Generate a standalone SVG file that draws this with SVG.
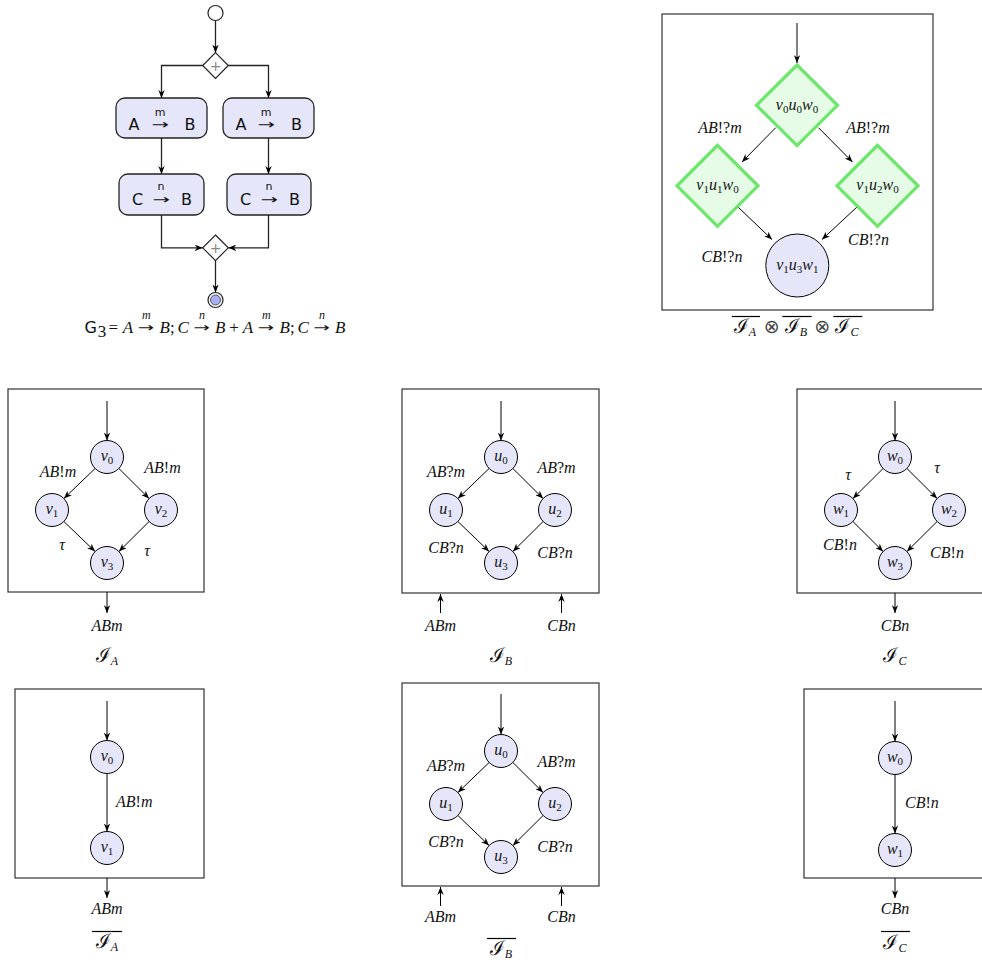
<svg xmlns="http://www.w3.org/2000/svg" width="982" height="964" viewBox="0 0 982 964">
<defs>
<marker id="ah" viewBox="0 0 10 8" refX="10" refY="4" markerWidth="8" markerHeight="6.4" orient="auto" markerUnits="userSpaceOnUse"><path d="M0,0 L10,4 L0,8 L3,4 Z" fill="#000"/></marker>
</defs>
<style>
.e{stroke:#000;stroke-width:1;fill:none;marker-end:url(#ah)}
.ea{stroke:#222;stroke-width:1.3;fill:none;marker-end:url(#ah)}
.st{fill:#e6e6fa;stroke:#000;stroke-width:1}
.box{fill:#fff;stroke:#333;stroke-width:1.2}
.act{fill:#e6e6fa;stroke:#222;stroke-width:1.3}
.gd{fill:#e6fce6;stroke:#6be86b;stroke-width:3.2}
.lb{font-family:"Liberation Serif",serif;font-style:italic;font-size:16px;fill:#111;text-anchor:middle}
.nl{font-family:"Liberation Serif",serif;font-style:italic;font-size:16px;fill:#111;text-anchor:middle}
.sub{font-size:11px;font-style:normal}
.up{font-style:normal}
.sf{font-family:"DejaVu Sans",sans-serif;font-size:16px;fill:#111;text-anchor:middle}
.sfs{font-family:"DejaVu Sans",sans-serif;font-size:11px;fill:#111;text-anchor:middle}
.arw{font-family:"DejaVu Sans",sans-serif;font-size:13px;fill:#111;text-anchor:middle}
.fm{font-family:"Liberation Serif",serif;font-style:italic;font-size:17px;fill:#111}
.fu{font-family:"Liberation Serif",serif;font-size:17px;fill:#111}
.fs{font-family:"Liberation Serif",serif;font-style:italic;font-size:12px;fill:#111;text-anchor:middle}
.scr{font-family:"DejaVu Serif",serif;font-size:20px;font-weight:normal}
.cap{font-family:"Liberation Serif","DejaVu Serif",serif;font-size:17px;fill:#111;text-anchor:middle}
.cs{font-style:italic;font-size:12px}
.ov{stroke:#000;stroke-width:1.2}
</style>

<!-- ============ Activity diagram (top-left) ============ -->
<g id="connectors-activity">
<line class="ea" x1="215.5" y1="20.5" x2="215.5" y2="52.7"/>
<path class="ea" d="M202.7,65.5 H161.5 V98"/>
<path class="ea" d="M228.3,65.5 H268.5 V98"/>
<line class="ea" x1="161.5" y1="138" x2="161.5" y2="174"/>
<line class="ea" x1="268.5" y1="138" x2="268.5" y2="174"/>
<path class="ea" d="M161.5,215 V247.8 H202.7"/>
<path class="ea" d="M268.5,215 V247.8 H228.3"/>
<line class="ea" x1="215.5" y1="260.6" x2="215.5" y2="292.5"/>
</g>
<g id="act-init"><circle cx="215.5" cy="13" r="7.5" fill="#fff" stroke="#222" stroke-width="1.2"/></g>
<g id="act-fork">
<polygon points="215.5,52.7 228.3,65.5 215.5,78.3 202.7,65.5" fill="#fff" stroke="#222" stroke-width="1.2"/>
<text x="215.5" y="70.5" font-family="DejaVu Sans,sans-serif" font-size="14" fill="#888" text-anchor="middle">+</text>
</g>
<g id="act-a1">
<rect class="act" x="116" y="98" width="91" height="40" rx="9"/>
<text class="sf" x="134" y="130">A</text><text class="arw" x="160" y="129.5" transform="matrix(1.6,0,0,1,-96,0)">→</text><text class="sfs" x="160" y="115.5">m</text><text class="sf" x="190" y="130">B</text>
</g>
<g id="act-a2">
<rect class="act" x="223" y="98" width="91" height="40" rx="9"/>
<text class="sf" x="241" y="130">A</text><text class="arw" x="266" y="129.5" transform="matrix(1.6,0,0,1,-159.6,0)">→</text><text class="sfs" x="266" y="115.5">m</text><text class="sf" x="296.5" y="130">B</text>
</g>
<g id="act-c1">
<rect class="act" x="119" y="174" width="85" height="41" rx="9"/>
<text class="sf" x="137.5" y="205">C</text><text class="arw" x="161" y="204" transform="matrix(1.6,0,0,1,-96.6,0)">→</text><text class="sfs" x="161" y="190">n</text><text class="sf" x="186.5" y="205">B</text>
</g>
<g id="act-c2">
<rect class="act" x="227" y="174" width="84" height="41" rx="9"/>
<text class="sf" x="245.5" y="205">C</text><text class="arw" x="269" y="204" transform="matrix(1.6,0,0,1,-161.4,0)">→</text><text class="sfs" x="269" y="190">n</text><text class="sf" x="294.5" y="205">B</text>
</g>
<g id="act-join">
<polygon points="215.5,235 228.3,247.8 215.5,260.6 202.7,247.8" fill="#fff" stroke="#222" stroke-width="1.2"/>
<text x="215.5" y="252.8" font-family="DejaVu Sans,sans-serif" font-size="14" fill="#888" text-anchor="middle">+</text>
</g>
<g id="act-final">
<circle cx="215.5" cy="300" r="7.5" fill="#fff" stroke="#222" stroke-width="1.2"/>
<circle cx="215.5" cy="300" r="5" fill="#aab0f8" stroke="#333" stroke-width="0.8"/>
</g>
<g id="formula">
<text x="84.5" y="333" font-family="DejaVu Sans,sans-serif" font-size="16" fill="#111">G</text>
<text class="fu" x="97.7" y="337" font-size="12">3</text>
<text class="fu" x="108.4" y="333">=</text>
<text class="fm" x="122.7" y="333">A</text>
<text class="arw" x="146.3" y="332" transform="matrix(1.5,0,0,1,-73.15,0)">→</text><text class="fs" x="146.3" y="319">m</text>
<text class="fm" x="159.5" y="333">B</text><text class="fu" x="169.9" y="333">;</text><text class="fm" x="177.4" y="333">C</text>
<text class="arw" x="201.9" y="332" transform="matrix(1.5,0,0,1,-100.95,0)">→</text><text class="fs" x="201.9" y="319">n</text>
<text class="fm" x="215.1" y="333">B</text>
<text class="fu" x="229.3" y="333">+</text>
<text class="fm" x="242.7" y="333">A</text>
<text class="arw" x="266.3" y="332" transform="matrix(1.5,0,0,1,-133.15,0)">→</text><text class="fs" x="266.3" y="319">m</text>
<text class="fm" x="279.5" y="333">B</text><text class="fu" x="289.9" y="333">;</text><text class="fm" x="297.4" y="333">C</text>
<text class="arw" x="321.9" y="332" transform="matrix(1.5,0,0,1,-160.95,0)">→</text><text class="fs" x="321.9" y="319">n</text>
<text class="fm" x="335.1" y="333">B</text>
</g>

<!-- ============ Product automaton (top-right) ============ -->
<g id="prod-box"><rect class="box" x="662" y="14" width="271" height="296"/></g>
<g id="connectors-prod">
<line class="e" x1="797" y1="23" x2="797" y2="63"/>
<line class="e" x1="775.7" y1="127.7" x2="742" y2="162"/>
<line class="e" x1="818.5" y1="127.7" x2="852.5" y2="162"/>
<line class="e" x1="738" y1="207" x2="772" y2="239.5"/>
<line class="e" x1="857" y1="207" x2="822" y2="239.5"/>
<text class="lb" x="720" y="133">AB<tspan class="up">!?</tspan>m</text>
<text class="lb" x="868" y="133">AB<tspan class="up">!?</tspan>m</text>
<text class="lb" x="722" y="262">CB<tspan class="up">!?</tspan>n</text>
<text class="lb" x="868.5" y="245">CB<tspan class="up">!?</tspan>n</text>
</g>
<g id="p-v0u0w0">
<polygon class="gd" points="797,65 837.5,105.3 797,145.6 756.5,105.3"/>
<text class="nl" x="797" y="110" font-size="15">v<tspan class="sub" dy="3">0</tspan><tspan dy="-3">u</tspan><tspan class="sub" dy="3">0</tspan><tspan dy="-3">w</tspan><tspan class="sub" dy="3">0</tspan></text>
</g>
<g id="p-v1u1w0">
<polygon class="gd" points="717.5,145.3 758,185.8 717.5,226.3 677,185.8"/>
<text class="nl" x="717.5" y="190" font-size="15">v<tspan class="sub" dy="3">1</tspan><tspan dy="-3">u</tspan><tspan class="sub" dy="3">1</tspan><tspan dy="-3">w</tspan><tspan class="sub" dy="3">0</tspan></text>
</g>
<g id="p-v1u2w0">
<polygon class="gd" points="877.5,145.3 918,185.8 877.5,226.3 837,185.8"/>
<text class="nl" x="877.5" y="190" font-size="15">v<tspan class="sub" dy="3">1</tspan><tspan dy="-3">u</tspan><tspan class="sub" dy="3">2</tspan><tspan dy="-3">w</tspan><tspan class="sub" dy="3">0</tspan></text>
</g>
<g id="p-v1u3w1">
<circle class="st" cx="797.3" cy="265.5" r="31.5"/>
<text class="nl" x="797.3" y="270" font-size="15">v<tspan class="sub" dy="3">1</tspan><tspan dy="-3">u</tspan><tspan class="sub" dy="3">3</tspan><tspan dy="-3">w</tspan><tspan class="sub" dy="3">1</tspan></text>
</g>
<g id="prod-caption">
<text class="cap" x="745" y="333"><tspan class="scr">ℐ</tspan><tspan class="cs" dy="3">A</tspan></text>
<text x="771.7" y="333" font-family="DejaVu Sans,sans-serif" font-size="19" fill="#444" text-anchor="middle">⊗</text>
<text class="cap" x="796" y="333"><tspan class="scr">ℐ</tspan><tspan class="cs" dy="3">B</tspan></text>
<text x="822.3" y="333" font-family="DejaVu Sans,sans-serif" font-size="19" fill="#444" text-anchor="middle">⊗</text>
<text class="cap" x="847" y="333"><tspan class="scr">ℐ</tspan><tspan class="cs" dy="3">C</tspan></text>
<line class="ov" x1="731.7" y1="316.5" x2="760" y2="316.5"/>
<line class="ov" x1="782.3" y1="316.5" x2="811.7" y2="316.5"/>
<line class="ov" x1="833.3" y1="316.5" x2="862.3" y2="316.5"/>
</g>

<!-- ============ I_A (middle) ============ -->
<g id="IA-box"><rect class="box" x="8" y="389" width="196" height="203"/></g>
<g id="connectors-IA">
<line class="e" x1="107" y1="401" x2="107" y2="440.5"/>
<line class="e" x1="95.1" y1="468.5" x2="63.9" y2="498.5"/>
<line class="e" x1="118.9" y1="468.5" x2="149.1" y2="498.5"/>
<line class="e" x1="63.9" y1="521.5" x2="95.1" y2="551.5"/>
<line class="e" x1="149.1" y1="521.5" x2="118.9" y2="551.5"/>
<line class="e" x1="107" y1="592" x2="107" y2="613"/>
<text class="lb" x="58" y="477">AB<tspan class="up">!</tspan>m</text>
<text class="lb" x="162.5" y="473">AB<tspan class="up">!</tspan>m</text>
<text class="lb" x="62" y="550">τ</text>
<text class="lb" x="147" y="556">τ</text>
<text class="lb" x="107" y="631">ABm</text>
</g>
<g id="IA-v0"><circle class="st" cx="107" cy="457" r="16.5"/><text class="nl" x="107" y="461">v<tspan class="sub" dy="3">0</tspan></text></g>
<g id="IA-v1"><circle class="st" cx="52" cy="510" r="16.5"/><text class="nl" x="52" y="514">v<tspan class="sub" dy="3">1</tspan></text></g>
<g id="IA-v2"><circle class="st" cx="161" cy="510" r="16.5"/><text class="nl" x="161" y="514">v<tspan class="sub" dy="3">2</tspan></text></g>
<g id="IA-v3"><circle class="st" cx="107" cy="563" r="16.5"/><text class="nl" x="107" y="567">v<tspan class="sub" dy="3">3</tspan></text></g>
<g id="IA-caption"><text class="cap" x="107" y="662"><tspan class="scr">ℐ</tspan><tspan class="cs" dy="3">A</tspan></text></g>

<!-- ============ I_B (middle) ============ -->
<g id="IB-box"><rect class="box" x="402" y="389" width="197" height="204"/></g>
<g id="connectors-IB">
<line class="e" x1="501" y1="401" x2="501" y2="440.5"/>
<line class="e" x1="489.1" y1="468.5" x2="457.9" y2="498.5"/>
<line class="e" x1="512.9" y1="468.5" x2="543.1" y2="498.5"/>
<line class="e" x1="457.9" y1="521.5" x2="489.1" y2="551.5"/>
<line class="e" x1="543.1" y1="521.5" x2="512.9" y2="551.5"/>
<line class="e" x1="440.5" y1="613" x2="440.5" y2="594"/>
<line class="e" x1="561.5" y1="613" x2="561.5" y2="594"/>
<text class="lb" x="446" y="477">AB<tspan class="up">?</tspan>m</text>
<text class="lb" x="556.5" y="473">AB<tspan class="up">?</tspan>m</text>
<text class="lb" x="446" y="553">CB<tspan class="up">?</tspan>n</text>
<text class="lb" x="555" y="558">CB<tspan class="up">?</tspan>n</text>
<text class="lb" x="440.5" y="631">ABm</text>
<text class="lb" x="561.5" y="631">CBn</text>
</g>
<g id="IB-u0"><circle class="st" cx="501" cy="457" r="16.5"/><text class="nl" x="501" y="461">u<tspan class="sub" dy="3">0</tspan></text></g>
<g id="IB-u1"><circle class="st" cx="446" cy="510" r="16.5"/><text class="nl" x="446" y="514">u<tspan class="sub" dy="3">1</tspan></text></g>
<g id="IB-u2"><circle class="st" cx="555" cy="510" r="16.5"/><text class="nl" x="555" y="514">u<tspan class="sub" dy="3">2</tspan></text></g>
<g id="IB-u3"><circle class="st" cx="501" cy="563" r="16.5"/><text class="nl" x="501" y="567">u<tspan class="sub" dy="3">3</tspan></text></g>
<g id="IB-caption"><text class="cap" x="501" y="662"><tspan class="scr">ℐ</tspan><tspan class="cs" dy="3">B</tspan></text></g>

<!-- ============ I_C (middle) ============ -->
<g id="IC-box"><rect class="box" x="797" y="389" width="200" height="204"/></g>
<g id="connectors-IC">
<line class="e" x1="895" y1="401" x2="895" y2="440.5"/>
<line class="e" x1="883.1" y1="468.5" x2="852.9" y2="498.5"/>
<line class="e" x1="906.9" y1="468.5" x2="937.1" y2="498.5"/>
<line class="e" x1="852.9" y1="521.5" x2="883.1" y2="551.5"/>
<line class="e" x1="937.1" y1="521.5" x2="906.9" y2="551.5"/>
<line class="e" x1="895" y1="593" x2="895" y2="613"/>
<text class="lb" x="848" y="480">τ</text>
<text class="lb" x="937" y="473">τ</text>
<text class="lb" x="840" y="550">CB<tspan class="up">!</tspan>n</text>
<text class="lb" x="947" y="558">CB<tspan class="up">!</tspan>n</text>
<text class="lb" x="895" y="631">CBn</text>
</g>
<g id="IC-w0"><circle class="st" cx="895" cy="457" r="16.5"/><text class="nl" x="895" y="461">w<tspan class="sub" dy="3">0</tspan></text></g>
<g id="IC-w1"><circle class="st" cx="841" cy="510" r="16.5"/><text class="nl" x="841" y="514">w<tspan class="sub" dy="3">1</tspan></text></g>
<g id="IC-w2"><circle class="st" cx="949" cy="510" r="16.5"/><text class="nl" x="949" y="514">w<tspan class="sub" dy="3">2</tspan></text></g>
<g id="IC-w3"><circle class="st" cx="895" cy="563" r="16.5"/><text class="nl" x="895" y="567">w<tspan class="sub" dy="3">3</tspan></text></g>
<g id="IC-caption"><text class="cap" x="895" y="662"><tspan class="scr">ℐ</tspan><tspan class="cs" dy="3">C</tspan></text></g>

<!-- ============ bar I_A (bottom) ============ -->
<g id="bIA-box"><rect class="box" x="15" y="689" width="189" height="189"/></g>
<g id="connectors-bIA">
<line class="e" x1="107" y1="701" x2="107" y2="740.5"/>
<line class="e" x1="107" y1="773.5" x2="107" y2="831.5"/>
<line class="e" x1="107" y1="878" x2="107" y2="898"/>
<text class="lb" x="116" y="807" style="text-anchor:start">AB<tspan class="up">!</tspan>m</text>
<text class="lb" x="107" y="914">ABm</text>
</g>
<g id="bIA-v0"><circle class="st" cx="107" cy="757" r="16.5"/><text class="nl" x="107" y="761">v<tspan class="sub" dy="3">0</tspan></text></g>
<g id="bIA-v1"><circle class="st" cx="107" cy="848" r="16.5"/><text class="nl" x="107" y="852">v<tspan class="sub" dy="3">1</tspan></text></g>
<g id="bIA-caption"><text class="cap" x="107" y="948"><tspan class="scr">ℐ</tspan><tspan class="cs" dy="3">A</tspan></text><line class="ov" x1="92" y1="931.5" x2="122" y2="931.5"/></g>

<!-- ============ bar I_B (bottom) ============ -->
<g id="bIB-box"><rect class="box" x="402" y="683" width="197" height="203"/></g>
<g id="connectors-bIB">
<line class="e" x1="501" y1="694" x2="501" y2="734.5"/>
<line class="e" x1="489.1" y1="762.5" x2="457.9" y2="792.5"/>
<line class="e" x1="512.9" y1="762.5" x2="543.1" y2="792.5"/>
<line class="e" x1="457.9" y1="815.5" x2="489.1" y2="845.5"/>
<line class="e" x1="543.1" y1="815.5" x2="512.9" y2="845.5"/>
<line class="e" x1="440.5" y1="906" x2="440.5" y2="887"/>
<line class="e" x1="561.5" y1="906" x2="561.5" y2="887"/>
<text class="lb" x="446" y="771">AB<tspan class="up">?</tspan>m</text>
<text class="lb" x="556.5" y="767">AB<tspan class="up">?</tspan>m</text>
<text class="lb" x="446" y="847">CB<tspan class="up">?</tspan>n</text>
<text class="lb" x="555" y="852">CB<tspan class="up">?</tspan>n</text>
<text class="lb" x="440.5" y="922">ABm</text>
<text class="lb" x="561.5" y="922">CBn</text>
</g>
<g id="bIB-u0"><circle class="st" cx="501" cy="751" r="16.5"/><text class="nl" x="501" y="755">u<tspan class="sub" dy="3">0</tspan></text></g>
<g id="bIB-u1"><circle class="st" cx="446" cy="804" r="16.5"/><text class="nl" x="446" y="808">u<tspan class="sub" dy="3">1</tspan></text></g>
<g id="bIB-u2"><circle class="st" cx="555" cy="804" r="16.5"/><text class="nl" x="555" y="808">u<tspan class="sub" dy="3">2</tspan></text></g>
<g id="bIB-u3"><circle class="st" cx="501" cy="857" r="16.5"/><text class="nl" x="501" y="861">u<tspan class="sub" dy="3">3</tspan></text></g>
<g id="bIB-caption"><text class="cap" x="501" y="955"><tspan class="scr">ℐ</tspan><tspan class="cs" dy="3">B</tspan></text><line class="ov" x1="487" y1="938.5" x2="516" y2="938.5"/></g>

<!-- ============ bar I_C (bottom) ============ -->
<g id="bIC-box"><rect class="box" x="804" y="689" width="190" height="189"/></g>
<g id="connectors-bIC">
<line class="e" x1="895" y1="701" x2="895" y2="741.5"/>
<line class="e" x1="895" y1="774.5" x2="895" y2="833.5"/>
<line class="e" x1="895" y1="878" x2="895" y2="898"/>
<text class="lb" x="905" y="808" style="text-anchor:start">CB<tspan class="up">!</tspan>n</text>
<text class="lb" x="895" y="914">CBn</text>
</g>
<g id="bIC-w0"><circle class="st" cx="895" cy="758" r="16.5"/><text class="nl" x="895" y="762">w<tspan class="sub" dy="3">0</tspan></text></g>
<g id="bIC-w1"><circle class="st" cx="895" cy="850" r="16.5"/><text class="nl" x="895" y="854">w<tspan class="sub" dy="3">1</tspan></text></g>
<g id="bIC-caption"><text class="cap" x="895" y="949"><tspan class="scr">ℐ</tspan><tspan class="cs" dy="3">C</tspan></text><line class="ov" x1="881" y1="931.5" x2="910" y2="931.5"/></g>
</svg>
